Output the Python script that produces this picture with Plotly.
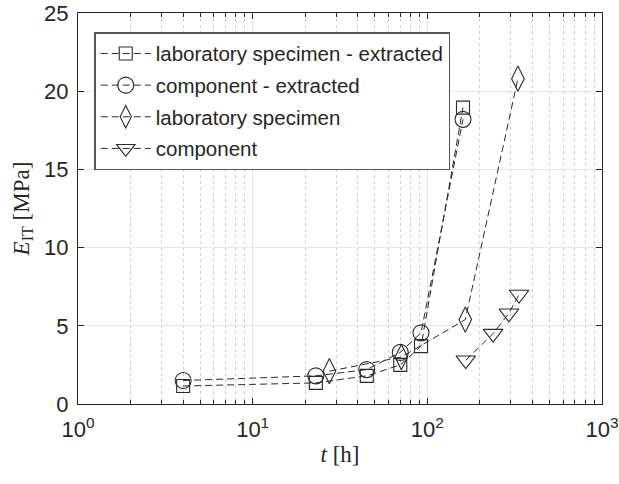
import plotly.graph_objects as go

# Data
lab_ext_t = [4, 23, 45, 70, 92, 160]
lab_ext_E = [1.15, 1.35, 1.8, 2.5, 3.7, 18.95]
comp_ext_t = [4, 23, 45, 70, 92, 160]
comp_ext_E = [1.5, 1.8, 2.2, 3.3, 4.55, 18.2]
lab_t = [27.5, 71, 165, 330]
lab_E = [2.1, 3.0, 5.4, 20.8]
comp_t = [166, 238, 293, 335]
comp_E = [2.8, 4.5, 5.8, 7.0]

names = ["laboratory specimen - extracted", "component - extracted",
         "laboratory specimen", "component"]
xtick_vals = [1, 10, 100, 1000]
xtick_text = ["10<sup>0</sup>", "10<sup>1</sup>", "10<sup>2</sup>", "10<sup>3</sup>"]
minor_vals = [m * d for d in (1, 10, 100) for m in range(2, 10)]
ytick_vals = [0, 5, 10, 15, 20, 25]

line_col = "#2b2b2b"
fig = go.Figure()
series = [
    (lab_ext_t, lab_ext_E, "square-open", 13),
    (comp_ext_t, comp_ext_E, "circle-open", 16),
    (lab_t, lab_E, "diamond-tall-open", 18),
    (comp_t, comp_E, "triangle-down-open", 17),
]
for i, ((t, e, sym, sz), nm) in enumerate(zip(series, names)):
    fig.add_trace(go.Scatter(
        x=t, y=e, name=nm, mode="lines+markers", legendgroup=f"g{i}",
        line=dict(color=line_col, width=1, dash="7px,4px"),
        marker=dict(symbol=sym, size=sz, color=line_col, line=dict(width=1.1, color=line_col)),
    ))

fig.update_layout(
    width=619, height=484,
    margin=dict(l=78, r=17, t=13, b=80),
    plot_bgcolor="white", paper_bgcolor="white",
    font=dict(family="Liberation Sans, Arial", size=22, color="#262626"),
    legend=dict(
        x=0.031, y=0.951, xanchor="left", yanchor="top",
        bgcolor="white", bordercolor="#555555", borderwidth=1.5,
        font=dict(size=20.5, color="#262626"),
        itemwidth=50, tracegroupgap=2,
    ),
    showlegend=True,
)
fig.update_xaxes(
    type="log", range=[0, 3], automargin=False,
    tickvals=xtick_vals, ticktext=xtick_text,
    ticks="inside", ticklen=6, tickcolor="#262626", ticklabelstandoff=6,
    showline=True, linecolor="#262626", linewidth=1, mirror="ticks",
    showgrid=True, gridcolor="#e6e6e6", gridwidth=1,
    minor=dict(tickvals=minor_vals, ticks="inside", ticklen=4, tickcolor="#262626",
               showgrid=True, gridcolor="#d0d0d0", griddash="dot"),
    title=dict(text="<i>t</i> [h]", font=dict(family="Liberation Serif, Times New Roman", size=23),
               standoff=4),
    zeroline=False,
)
fig.update_yaxes(
    range=[0, 25], tickvals=ytick_vals, automargin=False,
    ticks="inside", ticklen=6, tickcolor="#262626", ticklabelstandoff=4,
    showline=True, linecolor="#262626", linewidth=1, mirror="ticks",
    showgrid=True, gridcolor="#e6e6e6", gridwidth=1,
    title=dict(text="<i>E</i><sub>IT</sub> [MPa]",
               font=dict(family="Liberation Serif, Times New Roman", size=23), standoff=8),
    zeroline=False,
)

fig.write_html("out.html")
